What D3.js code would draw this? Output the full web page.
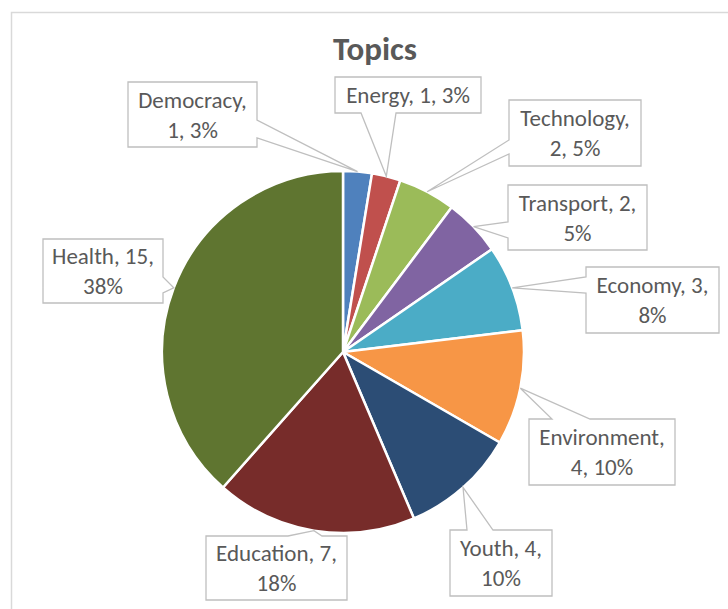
<!DOCTYPE html>
<html>
<head>
<meta charset="utf-8">
<script src="https://cdn.jsdelivr.net/npm/d3@7"></script>
<style>
  body { margin: 0; background: #fff; }
  svg { display: block; }
  text { font-family: Carlito, "Liberation Sans Narrow", "Liberation Sans", sans-serif; fill: #595959; }
</style>
</head>
<body>
<svg width="728" height="609"></svg>
<script>
// данные диаграммы
const topics = ["Democracy", "Energy", "Technology", "Transport", "Economy",
                "Environment", "Youth", "Education", "Health"];
const counts = [1, 1, 2, 2, 3, 4, 4, 7, 15];
const sliceColors = ["#4F81BD", "#C0504D", "#9BBB59", "#8064A2", "#4BACC6",
                     "#F79646", "#2C4D75", "#772C2A", "#5F7530"];
const title = "Topics";

// расположение выносок: прямоугольник, сторона с хвостиком, основание хвостика
const callouts = [
  { box: [128, 82, 129, 65],  side: "right",  base: [120, 138], split: 1 },
  { box: [335, 77, 146, 36],  side: "bottom", base: [361, 396], split: 3 },
  { box: [509, 100, 132, 66], side: "left",   base: [140, 154], split: 1 },
  { box: [508, 185, 139, 65], side: "left",   base: [222, 238], split: 2 },
  { box: [586, 267, 133, 66], side: "left",   base: [277, 293], split: 2 },
  { box: [529, 419, 146, 66], side: "top",    base: [552, 590], split: 1 },
  { box: [450, 530, 102, 66], side: "top",    base: [467, 493], split: 2 },
  { box: [206, 536, 141, 64], side: "top",    base: [288, 322], split: 2 },
  { box: [43, 239, 120, 64],  side: "right",  base: [277, 293], split: 2 }
];

const svg = d3.select("svg");
const width = +svg.attr("width");
const height = +svg.attr("height");

// рамка области диаграммы
svg.append("rect")
   .attr("x", 11.5).attr("y", 12.5)
   .attr("width", width + 20).attr("height", height + 20)
   .attr("fill", "#fff")
   .attr("stroke", "#d9d9d9")
   .attr("stroke-width", 1.5);

svg.append("text")
   .attr("x", 375).attr("y", 60)
   .attr("text-anchor", "middle")
   .style("font-size", "33px")
   .style("font-weight", "bold")
   .text(title);

const cx = 343, cy = 352, radius = 181;
const total = d3.sum(counts);
const fmtPct = d3.format(".0%");

const pie = d3.pie().sort(null).value(d => d);
const arcs = pie(counts);
const arc = d3.arc().innerRadius(0).outerRadius(radius);
const edge = d3.arc().innerRadius(radius).outerRadius(radius);

const g = svg.append("g").attr("transform", `translate(${cx},${cy})`);

g.selectAll("path")
 .data(arcs)
 .join("path")
 .attr("d", arc)
 .attr("fill", (d, i) => sliceColors[i])
 .attr("stroke", "#fff")
 .attr("stroke-width", 2.5)
 .attr("stroke-linejoin", "round");

// контур выноски с хвостиком к середине дуги сектора
function calloutPath(c, tip) {
  const [x, y, w, h] = c.box;
  const x1 = x + w, y1 = y + h;
  const [a, b] = c.base;
  const p = [];
  p.push([x, y]);
  if (c.side === "top") p.push([a, y], tip, [b, y]);
  p.push([x1, y]);
  if (c.side === "right") p.push([x1, a], tip, [x1, b]);
  p.push([x1, y1]);
  if (c.side === "bottom") p.push([b, y1], tip, [a, y1]);
  p.push([x, y1]);
  if (c.side === "left") p.push([x, b], tip, [x, a]);
  return "M" + p.map(q => q.join(",")).join("L") + "Z";
}

arcs.forEach((d, i) => {
  const c = callouts[i];
  const t = edge.centroid(d);
  const tip = [t[0] + cx, t[1] + cy];

  svg.append("path")
     .attr("d", calloutPath(c, tip))
     .attr("fill", "#fff")
     .attr("stroke", "#bfbfbf")
     .attr("stroke-width", 1.3);

  const words = `${topics[i]}, ${counts[i]}, ${fmtPct(counts[i] / total)}`.split(" ");
  const lines = [words.slice(0, c.split).join(" "), words.slice(c.split).join(" ")]
                  .filter(s => s.length);
  const [x, y, w, h] = c.box;
  const lh = 30;
  const y0 = y + h / 2 - (lines.length - 1) * lh / 2;

  lines.forEach((s, k) => {
    svg.append("text")
       .attr("x", x + w / 2)
       .attr("y", y0 + k * lh)
       .attr("dy", "0.35em")
       .attr("text-anchor", "middle")
       .style("font-size", "23px")
       .text(s);
  });
});
</script>
</body>
</html>
